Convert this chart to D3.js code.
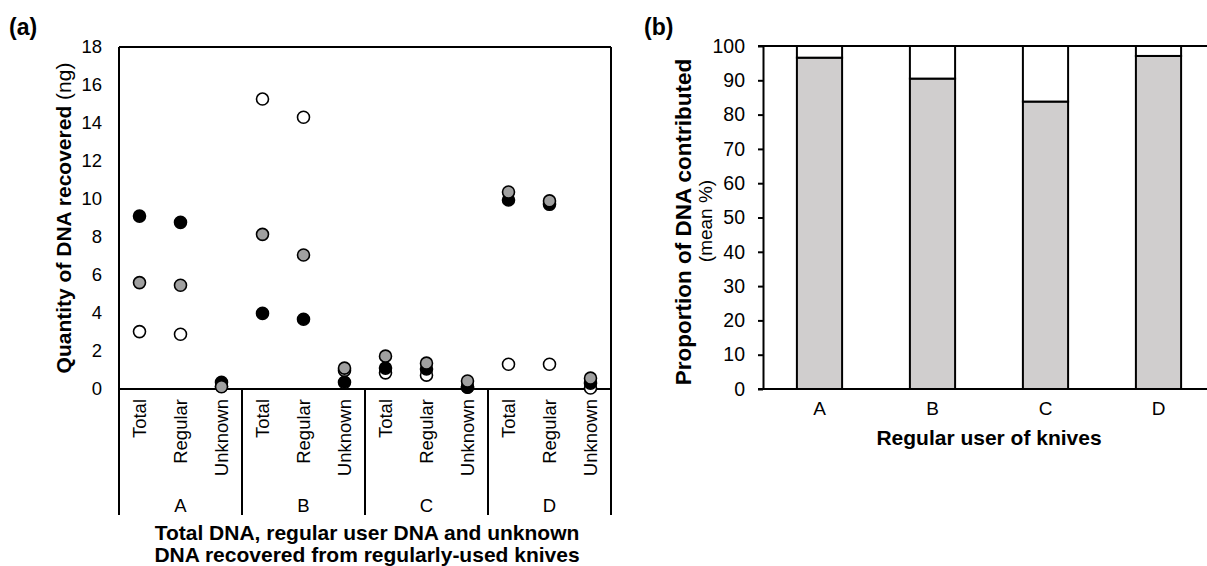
<!DOCTYPE html>
<html>
<head>
<meta charset="utf-8">
<script src="https://cdn.jsdelivr.net/npm/d3@7"></script>
<style>
  body { margin: 0; background: #fff; }
  svg text { font-family: "Liberation Sans", Arial, sans-serif; fill: #000; }
</style>
</head>
<body>
<svg id="chart" width="1207" height="566"></svg>
<script>
// ---- data ----
var users = ["A", "B", "C", "D"];
var measures = ["Total", "Regular", "Unknown"];
// quantity of DNA (ng), one value per user x measure, in order A-Total, A-Regular, A-Unknown, B-Total...
var knifeBlack = [9.1, 8.77, 0.35, 3.98, 3.67, 0.35, 1.1, 1.05, 0.1, 9.95, 9.72, 0.3];
var knifeGrey  = [5.6, 5.46, 0.12, 8.14, 7.05, 1.1, 1.73, 1.36, 0.42, 10.37, 9.9, 0.57];
var knifeWhite = [3.02, 2.88, 0.15, 15.26, 14.3, 0.98, 0.85, 0.73, 0.1, 1.3, 1.3, 0.05];
var yTicksA = [0, 2, 4, 6, 8, 10, 12, 14, 16, 18];
// panel b: mean % contributed by the regular user (rest is unknown)
var regularPct = [96.6, 90.5, 83.8, 97.1];
var yTicksB = [0, 10, 20, 30, 40, 50, 60, 70, 80, 90, 100];

var svg = d3.select("#chart");
var fs = 18.5;     // tick / category labels
var tfs = 21;      // axis titles

// ---------- panel (a) ----------
var keys = [];
users.forEach(u => measures.forEach(m => keys.push(u + "|" + m)));

var xa = d3.scaleBand().domain(keys).range([119, 611]);
var ya = d3.scaleLinear().domain([0, 18]).range([389, 47]);

var ga = svg.append("g");

// y axis labels, no tick marks
var axA = ga.append("g")
  .attr("transform", "translate(119,0)")
  .call(d3.axisLeft(ya).tickValues(yTicksA).tickSize(0).tickPadding(17));
axA.select(".domain").remove();
axA.selectAll("text").style("font-size", fs + "px").style("font-family", "Liberation Sans, Arial");

// frame
function line(g, x1, y1, x2, y2) {
  g.append("line").attr("x1", x1).attr("y1", y1).attr("x2", x2).attr("y2", y2)
    .attr("stroke", "#000").attr("stroke-width", 2);
}
line(ga, 119, ya(18), 611, ya(18));
line(ga, 119, ya(0), 611, ya(0));
line(ga, 611, ya(18), 611, 515);
line(ga, 119, ya(18), 119, 515);

// group dividers and labels
users.forEach((u, i) => {
  var x0 = xa(u + "|Total");
  var x1 = xa(u + "|Unknown") + xa.bandwidth();
  if (i > 0) line(ga, x0, ya(0), x0, 515);
  ga.append("text").attr("x", (x0 + x1) / 2).attr("y", 512)
    .attr("text-anchor", "middle").style("font-size", fs + "px").text(u);
});

// rotated measure labels
keys.forEach(k => {
  var cx = xa(k) + xa.bandwidth() / 2;
  ga.append("text")
    .attr("transform", "translate(" + (cx + 6.5) + ",399) rotate(-90)")
    .attr("text-anchor", "end")
    .style("font-size", fs + "px")
    .text(k.split("|")[1]);
});

// points: white, then black, then grey on top
var series = [
  { vals: knifeWhite, fill: "#ffffff" },
  { vals: knifeBlack, fill: "#000000" },
  { vals: knifeGrey, fill: "#a0a0a0" }
];
series.forEach(s => {
  ga.append("g").selectAll("circle").data(s.vals).join("circle")
    .attr("cx", (d, i) => xa(keys[i]) + xa.bandwidth() / 2)
    .attr("cy", d => ya(d))
    .attr("r", 6)
    .attr("fill", s.fill)
    .attr("stroke", "#000")
    .attr("stroke-width", 1.6);
});

// titles
ga.append("text").attr("x", 9).attr("y", 35).style("font-size", "23px").style("font-weight", "bold").text("(a)");

var ta = ga.append("text")
  .attr("transform", "translate(71,218) rotate(-90)")
  .attr("text-anchor", "middle")
  .style("font-size", tfs + "px");
ta.append("tspan").style("font-weight", "bold").text("Quantity of DNA recovered");
ta.append("tspan").text(" (ng)");

ga.append("text").attr("x", 367).attr("y", 540).attr("text-anchor", "middle")
  .style("font-size", tfs + "px").style("font-weight", "bold")
  .text("Total DNA, regular user DNA and unknown");
ga.append("text").attr("x", 367).attr("y", 562).attr("text-anchor", "middle")
  .style("font-size", tfs + "px").style("font-weight", "bold")
  .text("DNA recovered from regularly-used knives");

// ---------- panel (b) ----------
var xb = d3.scaleBand().domain(users).range([763, 1215]).paddingInner(0.6).paddingOuter(0.3);
var yb = d3.scaleLinear().domain([0, 100]).range([389, 46]);

var gb = svg.append("g");

// bars: grey regular-user share, white unknown share on top
gb.append("g").selectAll("rect.reg").data(regularPct).join("rect")
  .attr("x", (d, i) => xb(users[i]))
  .attr("y", d => yb(d))
  .attr("width", xb.bandwidth())
  .attr("height", d => yb(0) - yb(d))
  .attr("fill", "#d0cece")
  .attr("stroke", "#000")
  .attr("stroke-width", 2);
gb.append("g").selectAll("rect.unk").data(regularPct).join("rect")
  .attr("x", (d, i) => xb(users[i]))
  .attr("y", yb(100))
  .attr("width", xb.bandwidth())
  .attr("height", d => yb(d) - yb(100))
  .attr("fill", "#ffffff")
  .attr("stroke", "#000")
  .attr("stroke-width", 2);

var axB = gb.append("g")
  .attr("transform", "translate(763,0)")
  .call(d3.axisLeft(yb).tickValues(yTicksB).tickSize(5).tickPadding(13).tickSizeOuter(0));
axB.selectAll("line, path").attr("stroke", "#000").attr("stroke-width", 2);
axB.selectAll("text").style("font-size", "19.5px").style("font-family", "Liberation Sans, Arial");

line(gb, 758, yb(0), 1215, yb(0));
line(gb, 758, yb(100), 1215, yb(100));

var axBx = gb.append("g")
  .attr("transform", "translate(0," + yb(0) + ")")
  .call(d3.axisBottom(xb).tickSize(0).tickPadding(13));
axBx.select(".domain").remove();
axBx.selectAll("text").style("font-size", "19px").style("font-family", "Liberation Sans, Arial");

gb.append("text").attr("x", 644).attr("y", 35).style("font-size", "23px").style("font-weight", "bold").text("(b)");

gb.append("text")
  .attr("transform", "translate(691,222) rotate(-90)")
  .attr("text-anchor", "middle")
  .style("font-size", "22.5px").style("font-weight", "bold")
  .text("Proportion of DNA contributed");
gb.append("text")
  .attr("transform", "translate(712,221) rotate(-90)")
  .attr("text-anchor", "middle")
  .style("font-size", "19px")
  .text("(mean %)");

gb.append("text").attr("x", 989).attr("y", 445).attr("text-anchor", "middle")
  .style("font-size", tfs + "px").style("font-weight", "bold")
  .text("Regular user of knives");
</script>
</body>
</html>
